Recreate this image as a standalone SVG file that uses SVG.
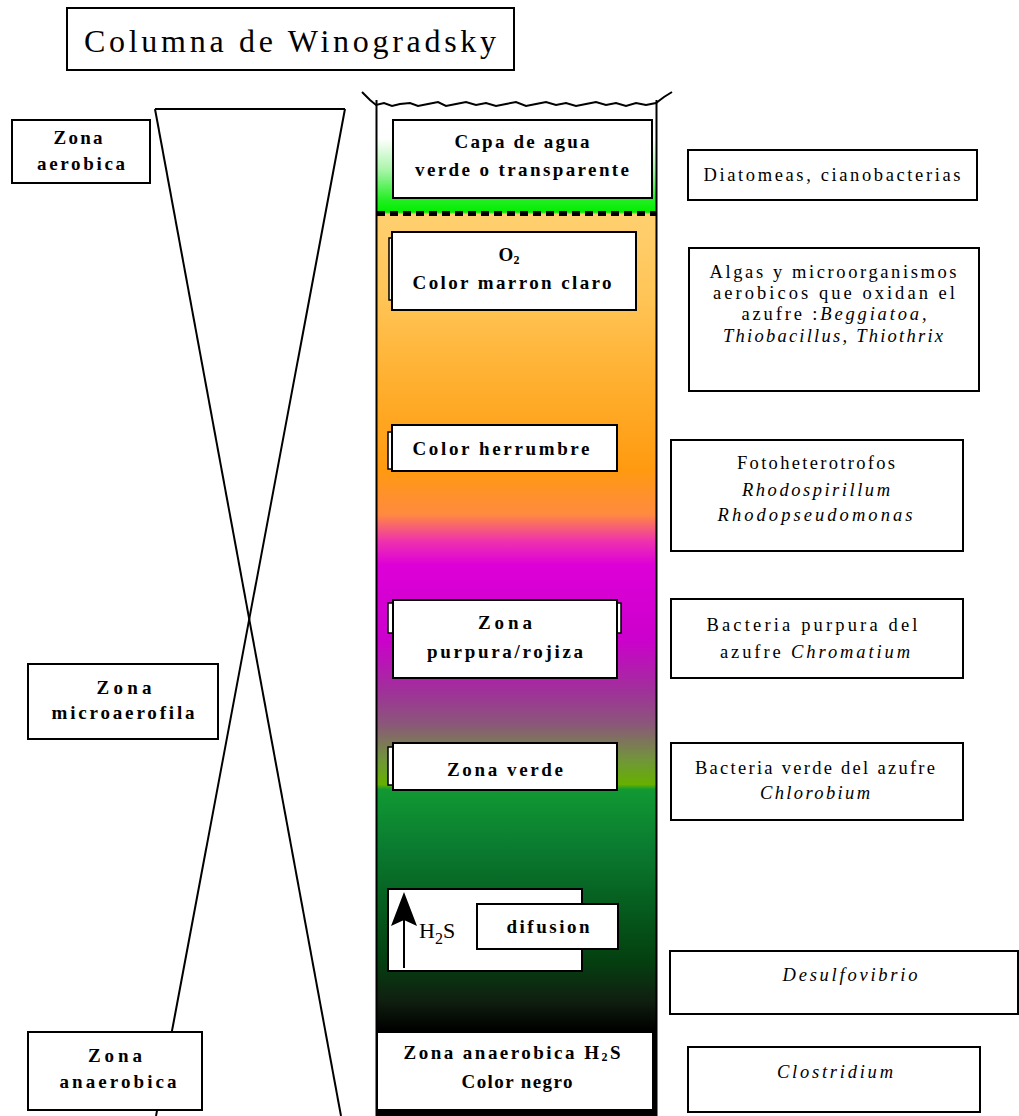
<svg xmlns="http://www.w3.org/2000/svg" width="1019" height="1116" viewBox="0 0 1019 1116">
<style>
.box{fill:#fff;stroke:#000;stroke-width:2}
.tab{fill:#fff;stroke:#000;stroke-width:1.5}
.b{font-family:"Liberation Serif","Times New Roman",serif;font-weight:bold;font-size:19px;fill:#000;text-anchor:middle}
.r{font-family:"Liberation Serif","Times New Roman",serif;font-size:18.5px;fill:#000;text-anchor:middle}
.i{font-style:italic}
.ln{fill:none;stroke:#000;stroke-width:2}
</style>
<defs>
<linearGradient id="col" gradientUnits="userSpaceOnUse" x1="0" y1="105" x2="0" y2="1116">
<stop offset="0" stop-color="#ffffff"/>
<stop offset="0.033" stop-color="#ffffff"/>
<stop offset="0.064" stop-color="#aaf5aa"/>
<stop offset="0.094" stop-color="#22ee22"/>
<stop offset="0.106" stop-color="#00ee00"/>
<stop offset="0.108" stop-color="#ffd070"/>
<stop offset="0.193" stop-color="#ffc455"/>
<stop offset="0.272" stop-color="#ffb030"/>
<stop offset="0.361" stop-color="#ff9a10"/>
<stop offset="0.405" stop-color="#ff8a40"/>
<stop offset="0.432" stop-color="#ee30b0"/>
<stop offset="0.455" stop-color="#dd00d8"/>
<stop offset="0.529" stop-color="#cc00cc"/>
<stop offset="0.579" stop-color="#a0309a"/>
<stop offset="0.613" stop-color="#8a5878"/>
<stop offset="0.648" stop-color="#70963a"/>
<stop offset="0.672" stop-color="#66b000"/>
<stop offset="0.677" stop-color="#119933"/>
<stop offset="0.737" stop-color="#0a7a30"/>
<stop offset="0.786" stop-color="#066020"/>
<stop offset="0.846" stop-color="#044010"/>
<stop offset="0.885" stop-color="#102010"/>
<stop offset="0.915" stop-color="#000000"/>
<stop offset="1" stop-color="#000000"/>
</linearGradient>
</defs>
<rect width="1019" height="1116" fill="#fff"/>

<g id="title">
<rect x="67" y="8" width="447" height="62" class="box" stroke-width="1.5"/>
<text x="290" y="52" font-family="Liberation Serif,Times New Roman,serif" font-size="32" text-anchor="middle" textLength="412" lengthAdjust="spacing">Columna de Winogradsky</text>
</g>

<g id="connectors">
<line x1="155" y1="109" x2="345" y2="109" class="ln"/>
<line x1="155" y1="109" x2="341" y2="1116" class="ln"/>
<line x1="345" y1="109" x2="156" y2="1116" class="ln"/>
</g>

<g id="column">
<rect x="377" y="105" width="279" height="1011" fill="url(#col)"/>
<line x1="377" y1="213.5" x2="656" y2="213.5" stroke="#000" stroke-width="5" stroke-dasharray="8 5"/>
<line x1="376.5" y1="100" x2="376.5" y2="1116" stroke="#000" stroke-width="2"/>
<line x1="656.5" y1="100" x2="656.5" y2="1116" stroke="#000" stroke-width="2"/>
<polyline class="ln" stroke-width="1.5" points="362,92 370,100 376,105 384,103 392,106 400,104 410,103 418,106 428,104 438,102 446,106 456,104 466,102 476,105 486,103 496,106 506,104 516,102 526,106 536,104 546,102 556,105 566,103 576,106 586,104 596,102 606,105 616,103 626,106 636,103 646,105 656,103 664,97 672,92"/>
</g>

<g id="capa">
<rect x="393" y="120" width="259" height="78" class="box"/>
<text class="b" x="522" y="148" textLength="135" lengthAdjust="spacing">Capa de agua</text>
<text class="b" x="522" y="176" textLength="214" lengthAdjust="spacing">verde o transparente</text>
</g>

<g id="o2">
<rect x="389" y="238" width="8" height="62" class="tab"/>
<rect x="392" y="232" width="244" height="78" class="box"/>
<text class="b" x="509" y="261">O<tspan font-size="12" dy="3">2</tspan></text>
<text class="b" x="512" y="289" textLength="199" lengthAdjust="spacing">Color marron claro</text>
</g>

<g id="herrumbre">
<rect x="388" y="432" width="8" height="37" class="tab"/>
<rect x="392" y="425" width="225" height="46" class="box"/>
<text class="b" x="501" y="455" textLength="177" lengthAdjust="spacing">Color herrumbre</text>
</g>

<g id="purpura">
<rect x="388" y="603" width="8" height="30" class="tab"/>
<rect x="614" y="603" width="7" height="30" class="tab"/>
<rect x="393" y="600" width="224" height="78" class="box"/>
<text class="b" x="505" y="629" textLength="54" lengthAdjust="spacing">Zona</text>
<text class="b" x="505" y="658" textLength="156" lengthAdjust="spacing">purpura/rojiza</text>
</g>

<g id="verde">
<rect x="388" y="747" width="8" height="38" class="tab"/>
<rect x="393" y="743" width="224" height="47" class="box"/>
<text class="b" x="505" y="776" textLength="116" lengthAdjust="spacing">Zona verde</text>
</g>

<g id="h2s">
<rect x="388" y="889" width="194" height="82" class="box"/>
<line x1="404" y1="968" x2="404" y2="915" stroke="#000" stroke-width="2"/>
<polygon points="404,892 417,926 404,920 391,926" fill="#000"/>
<text x="419" y="938" font-family="Liberation Serif,Times New Roman,serif" font-size="22">H<tspan font-size="16" dy="6">2</tspan><tspan dy="-6">S</tspan></text>
</g>

<g id="difusion">
<rect x="477" y="904" width="141" height="45" class="box"/>
<text class="b" x="548" y="933" textLength="83" lengthAdjust="spacing">difusion</text>
</g>

<g id="anaerobica-col">
<rect x="377" y="1032" width="276" height="78" class="box"/>
<text class="b" x="512" y="1059" textLength="217" lengthAdjust="spacing">Zona anaerobica H<tspan font-size="12" dy="2">2</tspan><tspan dy="-2">S</tspan></text>
<text class="b" x="517" y="1088" textLength="111" lengthAdjust="spacing">Color negro</text>
</g>

<g id="zona-aerobica">
<rect x="12" y="120" width="138" height="63" class="box"/>
<text class="b" x="78" y="144" textLength="49" lengthAdjust="spacing">Zona</text>
<text class="b" x="81" y="170" textLength="88" lengthAdjust="spacing">aerobica</text>
</g>

<g id="zona-microaerofila">
<rect x="28" y="664" width="190" height="75" class="box"/>
<text class="b" x="124" y="694" textLength="55" lengthAdjust="spacing">Zona</text>
<text class="b" x="123" y="719" textLength="143" lengthAdjust="spacing">microaerofila</text>
</g>

<g id="zona-anaerobica">
<rect x="28" y="1032" width="174" height="78" class="box"/>
<text class="b" x="115" y="1062" textLength="54" lengthAdjust="spacing">Zona</text>
<text class="b" x="118" y="1088" textLength="117" lengthAdjust="spacing">anaerobica</text>
</g>

<g id="diatomeas">
<rect x="688" y="150" width="289" height="50" class="box"/>
<text class="r" x="832" y="181" textLength="257" lengthAdjust="spacing">Diatomeas, cianobacterias</text>
</g>

<g id="algas">
<rect x="689" y="248" width="290" height="143" class="box"/>
<text class="r" x="833" y="278" textLength="247" lengthAdjust="spacing">Algas y microorganismos</text>
<text class="r" x="834" y="299" textLength="242" lengthAdjust="spacing">aerobicos que oxidan el</text>
<text class="r" x="834" y="320" textLength="185" lengthAdjust="spacing">azufre :<tspan class="i">Beggiatoa,</tspan></text>
<text class="r i" x="833" y="342" textLength="220" lengthAdjust="spacing">Thiobacillus, Thiothrix</text>
</g>

<g id="fotoheterotrofos">
<rect x="671" y="440" width="292" height="111" class="box"/>
<text class="r" x="816" y="469" textLength="158" lengthAdjust="spacing">Fotoheterotrofos</text>
<text class="r i" x="816" y="496" textLength="148" lengthAdjust="spacing">Rhodospirillum</text>
<text class="r i" x="815" y="521" textLength="195" lengthAdjust="spacing">Rhodopseudomonas</text>
</g>

<g id="purpura-bact">
<rect x="671" y="599" width="292" height="79" class="box"/>
<text class="r" x="812" y="631" textLength="211" lengthAdjust="spacing">Bacteria purpura del</text>
<text class="r" x="815" y="658" textLength="190" lengthAdjust="spacing">azufre  <tspan class="i">Chromatium</tspan></text>
</g>

<g id="verde-bact">
<rect x="671" y="743" width="292" height="77" class="box"/>
<text class="r" x="815" y="774" textLength="240" lengthAdjust="spacing">Bacteria verde del azufre</text>
<text class="r i" x="815" y="799" textLength="110" lengthAdjust="spacing">Chlorobium</text>
</g>

<g id="desulfovibrio">
<rect x="670" y="951" width="348" height="63" class="box"/>
<text class="r i" x="850" y="981" textLength="135" lengthAdjust="spacing">Desulfovibrio</text>
</g>

<g id="clostridium">
<rect x="688" y="1047" width="292" height="65" class="box"/>
<text class="r i" x="835" y="1078" textLength="116" lengthAdjust="spacing">Clostridium</text>
</g>
</svg>
